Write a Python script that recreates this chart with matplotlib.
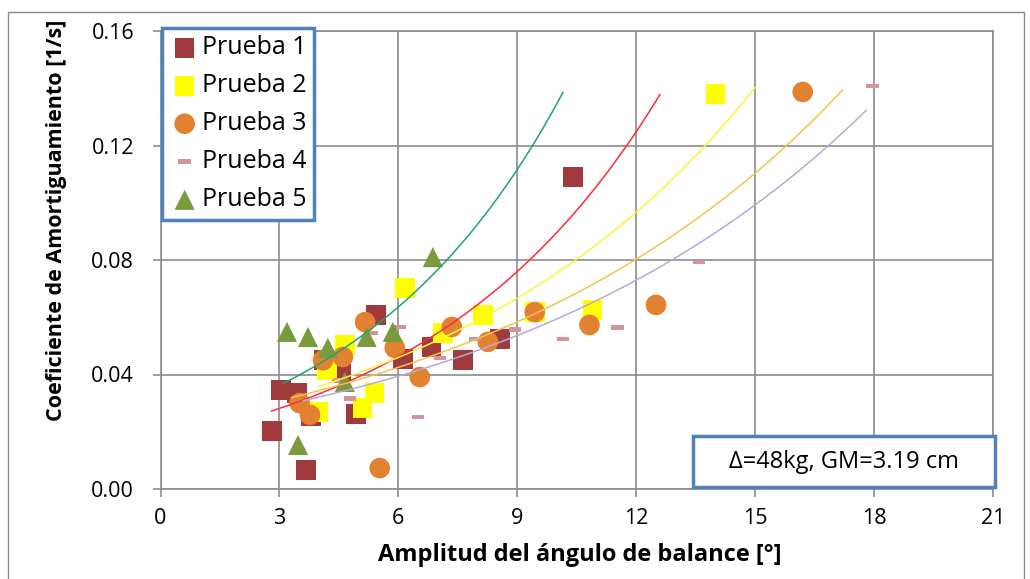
import numpy as np
import matplotlib
matplotlib.use("Agg")
import matplotlib.pyplot as plt
from matplotlib.patches import Rectangle

plt.rcParams['font.family'] = ['Open Sans', 'DejaVu Sans']

# --- data ---
p1_x = [2.81, 3.04, 3.44, 3.67, 3.79, 4.13, 4.57, 4.93, 5.43, 6.11, 6.84, 7.63, 8.56, 10.4]
p1_y = [0.0203, 0.0346, 0.0335, 0.0066, 0.0255, 0.0450, 0.0410, 0.0262, 0.0608, 0.0454, 0.0496, 0.0451, 0.0524, 0.1090]

p2_x = [3.97, 4.20, 4.65, 5.10, 5.40, 6.16, 7.12, 8.13, 9.44, 10.9, 14.0]
p2_y = [0.0269, 0.0416, 0.0503, 0.0283, 0.0335, 0.0702, 0.0545, 0.0608, 0.0618, 0.0625, 0.1380]

p3_x = [3.51, 3.77, 4.10, 4.60, 5.16, 5.53, 5.91, 6.54, 7.35, 8.26, 9.44, 10.82, 12.5, 16.2]
p3_y = [0.0300, 0.0259, 0.0450, 0.0461, 0.0583, 0.0073, 0.0493, 0.0391, 0.0566, 0.0514, 0.0618, 0.0573, 0.0643, 0.1387]

p4_x = [4.50, 4.78, 5.33, 6.04, 6.49, 7.05, 7.93, 8.94, 10.15, 11.53, 13.58, 17.96]
p4_y = [0.0380, 0.0317, 0.0545, 0.0566, 0.0252, 0.0458, 0.0524, 0.0556, 0.0524, 0.0563, 0.0793, 0.1408]

p5_x = [3.19, 3.47, 3.72, 4.22, 4.65, 5.20, 5.86, 6.87]
p5_y = [0.0549, 0.0154, 0.0531, 0.0493, 0.0374, 0.0531, 0.0549, 0.0810]

labels = ["Prueba 1", "Prueba 2", "Prueba 3", "Prueba 4", "Prueba 5"]

# exponential trendlines y = a*exp(b*x), fitted values
trend_a = [0.01715, 0.02184, 0.02250, 0.02130, 0.02065]
trend_b = [0.1654, 0.1240, 0.1060, 0.1026, 0.1875]
trend_x0 = [2.8, 4.0, 3.3, 3.6, 3.1]
trend_x1 = [12.6, 15.0, 17.2, 17.8, 10.15]
trend_colors = ["#FF2A3C", "#FFF23A", "#F2C44C", "#B7AAD6", "#1FA46C"]

# --- figure ---
fig = plt.figure(figsize=(10.3, 5.79), dpi=100)
ax = fig.add_axes([160.5 / 1030, 1 - 489 / 579, 832.5 / 1030, 458 / 579])

# outer chart border
fig.add_artist(Rectangle((8 / 1030, -0.05), 1016 / 1030, 1.05 - 12 / 579,
                         transform=fig.transFigure, fill=False,
                         edgecolor="#8C8C8C", linewidth=1.0))

series = [(p1_x, p1_y), (p2_x, p2_y), (p3_x, p3_y), (p4_x, p4_y), (p5_x, p5_y)]
colors = ["#A03A3C", "#FFFF00", "#E2812F", "#D4959A", "#7A9A3E"]
dash = [(-1, -0.38), (1, -0.38), (1, 0.38), (-1, 0.38), (-1, -0.38)]
markers = ["s", "s", "o", dash, "^"]
sizes = [200, 200, 220, 80, 210]

for (xs, ys), c, m, s, lab in zip(series, colors, markers, sizes, labels):
    ax.scatter(xs, ys, marker=m, s=s, color=c, edgecolors="none", label=lab, zorder=3)

for a, b, x0, x1, c in zip(trend_a, trend_b, trend_x0, trend_x1, trend_colors):
    xx = np.linspace(x0, x1, 100)
    ax.plot(xx, a * np.exp(b * xx), color=c, linewidth=1.1, zorder=4)

ax.set_xlim(0, 21)
ax.set_ylim(0, 0.16)
ax.set_xticks(np.arange(0, 22, 3))
ax.set_yticks([0.0, 0.04, 0.08, 0.12, 0.16])
ax.yaxis.set_major_formatter(plt.FuncFormatter(lambda v, _: f"{v:.2f}"))
ax.grid(True, color="#8C8C8C", linewidth=1.2)
ax.set_axisbelow(True)
for sp in ax.spines.values():
    sp.set_color("#8C8C8C")
    sp.set_linewidth(1.2)
ax.tick_params(axis="both", colors="#8C8C8C", labelcolor="black",
               length=6, width=1.2, labelsize=15.5)
ax.tick_params(axis="y", pad=13)
ax.tick_params(axis="x", pad=8)

ax.set_xlabel("Amplitud del ángulo de balance [°]", fontsize=17, fontweight="bold")
ax.set_ylabel("Coeficiente de Amortiguamiento [1/s]", fontsize=15.5, fontweight="bold")
ax.xaxis.set_label_coords(0.504, -0.118)
ax.yaxis.set_label_coords(-0.112, 0.587)

leg = ax.legend(loc="upper left", bbox_to_anchor=(0.002, 1.007), borderaxespad=0,
                fontsize=18, handletextpad=0.1, handlelength=1.2, labelspacing=0.52,
                borderpad=0.3, fancybox=False, framealpha=1, scatterpoints=1)
leg.get_frame().set_edgecolor("#4F81BD")
leg.get_frame().set_linewidth(2.5)

# annotation box
ax.add_patch(Rectangle((0.6396, 0.0044), 0.3628, 0.1114, transform=ax.transAxes,
                       facecolor="white", edgecolor="#4F81BD", linewidth=2.5,
                       clip_on=False, zorder=5))
ax.text(0.821, 0.058, "Δ=48kg, GM=3.19 cm", transform=ax.transAxes,
        ha="center", va="center", fontsize=17, zorder=6)

fig.savefig("out.png", dpi=100)
